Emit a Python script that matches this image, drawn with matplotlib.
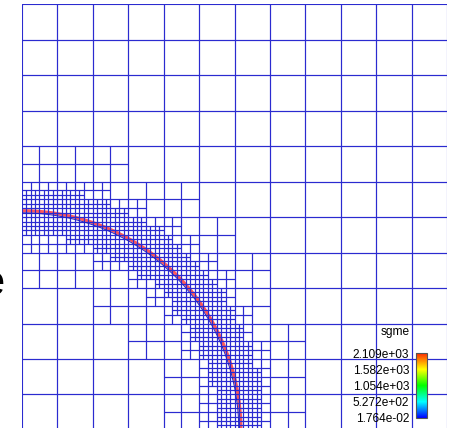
import numpy as np
import matplotlib
matplotlib.use("Agg")
import matplotlib.pyplot as plt
from matplotlib.collections import PatchCollection
from matplotlib.patches import Rectangle
from matplotlib.colors import LinearSegmentedColormap, Normalize
from matplotlib.cm import ScalarMappable

plt.rcParams['font.family'] = ['Liberation Sans', 'DejaVu Sans']

# Mesh setup (coarse cell units)
n_coarse = 12
radius = 6.18
refine_dist = [1.27, 0.73, 0.50]   # refine level L -> L+1 if closer than this to interface

# Colorbar
field_name = "sgme"
cb_ticks = [1.764e-02, 5.272e+02, 1.054e+03, 1.582e+03, 2.109e+03]
cb_labels = ["1.764e-02", "5.272e+02", "1.054e+03", "1.582e+03", "2.109e+03"]
cb_colors = ['#0000ff', '#00ffff', '#00ff00', '#ffff00', '#ff2a00']


def dist_to_arc(x0, y0, s):
    rmin = np.hypot(x0, y0)
    rmax = np.hypot(x0 + s, y0 + s)
    if rmin <= radius <= rmax:
        return 0.0
    return min(abs(rmin - radius), abs(rmax - radius))


cells = []


def refine(x0, y0, s, level):
    if level < len(refine_dist) and dist_to_arc(x0, y0, s) < refine_dist[level]:
        h = s / 2
        for dx in (0, h):
            for dy in (0, h):
                refine(x0 + dx, y0 + dy, h, level + 1)
    else:
        cells.append((x0, y0, s))


for i in range(n_coarse):
    for j in range(n_coarse):
        refine(i, j, 1.0, 0)

W, H = 453, 428
fig = plt.figure(figsize=(W / 100, H / 100), dpi=100)
ax = fig.add_axes([21.7 / W, 1 - 429.9 / H, 425.6 / W, 425.6 / H])
ax.set_xlim(0, n_coarse)
ax.set_ylim(0, n_coarse)
ax.axis('off')

# interface band
th = np.linspace(0, np.pi / 2, 400)
ax.plot(radius * np.cos(th), radius * np.sin(th), color='#ff3c3c', lw=2.3, alpha=0.85,
        solid_capstyle='butt', zorder=1)
ax.plot((radius - 0.06) * np.cos(th), (radius - 0.06) * np.sin(th), color='#2020c0', lw=0.7,
        zorder=3)

rects = [Rectangle((x, y), s, s) for x, y, s in cells]
ax.add_collection(PatchCollection(rects, facecolor='none', edgecolor='#2b2bd0',
                                  linewidth=0.8, zorder=2))

# cut-off letter on the left
fig.text(4 / W, 1 - 284 / H, "e", ha='right', va='center', fontsize=30, color='black')

# colorbar
cmap = LinearSegmentedColormap.from_list('rb', cb_colors)
cax = fig.add_axes([416 / W, 1 - 418 / H, 11 / W, 65 / H])
cb = fig.colorbar(ScalarMappable(norm=Normalize(cb_ticks[0], cb_ticks[-1]), cmap=cmap), cax=cax)
cb.outline.set_edgecolor('#555555')
cb.outline.set_linewidth(0.8)
cax.yaxis.set_ticks_position('left')
cax.set_yticks(cb_ticks)
cax.set_yticklabels(cb_labels)
cax.tick_params(length=0, pad=5, labelsize=8.6)
fig.text(410 / W, 1 - 332 / H, field_name, ha='right', va='center', fontsize=8.6)

fig.savefig("out.png", dpi=100)
